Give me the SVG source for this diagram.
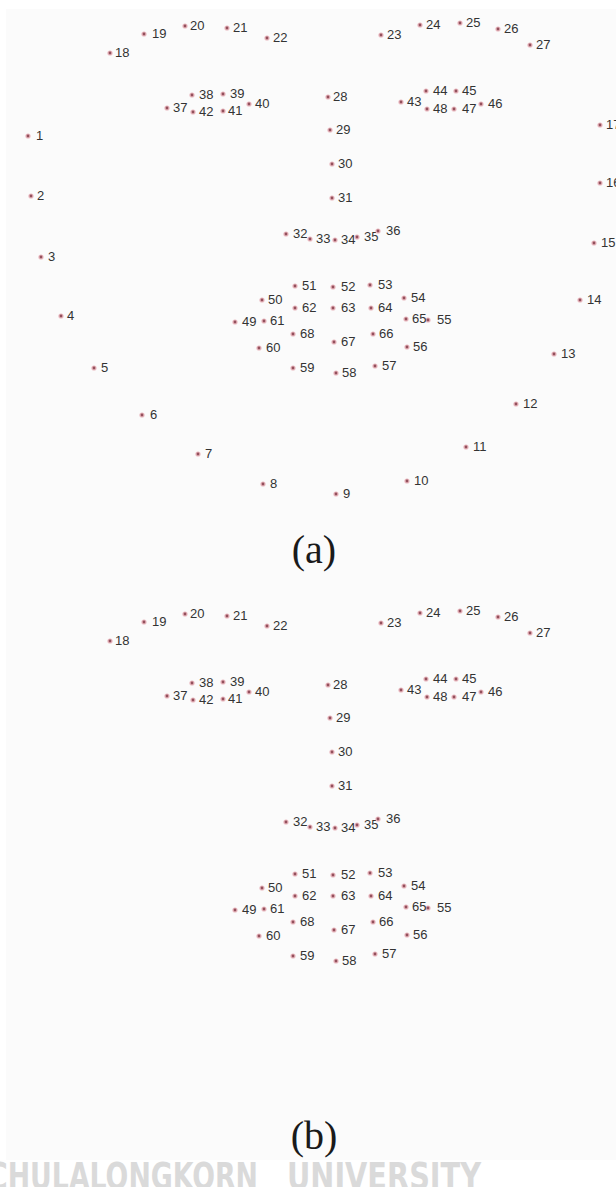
<svg xmlns="http://www.w3.org/2000/svg" xmlns:xlink="http://www.w3.org/1999/xlink" width="616" height="1187" viewBox="0 0 616 1187">
<style>
.lm text{font-family:"Liberation Sans",Arial,sans-serif;font-size:13px;fill:#333333}
.cap{font-family:"Liberation Serif","Times New Roman",serif;font-size:40px;fill:#1a1a1a;text-anchor:middle}
.wm{font-family:"Liberation Sans Narrow","DejaVu Sans Condensed","Liberation Sans",sans-serif;font-weight:bold;font-size:38px;fill:#dadada}
</style>
<defs>
<g id="m"><circle r="2.6" fill="#e8b7be"/><circle r="1.4" fill="#94505c"/></g>
</defs>
<rect x="0" y="0" width="616" height="1187" fill="#ffffff"/>
<rect x="6" y="9" width="610" height="1151" fill="#fbfbfb"/>
<g id="panel-a">
<g id="a-p1" class="lm"><use xlink:href="#m" x="28" y="136"/><text x="36" y="140">1</text></g>
<g id="a-p2" class="lm"><use xlink:href="#m" x="31" y="196"/><text x="37" y="200">2</text></g>
<g id="a-p3" class="lm"><use xlink:href="#m" x="41" y="257"/><text x="48" y="261">3</text></g>
<g id="a-p4" class="lm"><use xlink:href="#m" x="61" y="316"/><text x="67" y="320">4</text></g>
<g id="a-p5" class="lm"><use xlink:href="#m" x="94" y="368"/><text x="101" y="372">5</text></g>
<g id="a-p6" class="lm"><use xlink:href="#m" x="142" y="415"/><text x="150" y="419">6</text></g>
<g id="a-p7" class="lm"><use xlink:href="#m" x="198" y="454"/><text x="205" y="458">7</text></g>
<g id="a-p8" class="lm"><use xlink:href="#m" x="263" y="484"/><text x="270" y="488">8</text></g>
<g id="a-p9" class="lm"><use xlink:href="#m" x="336" y="494"/><text x="343" y="498">9</text></g>
<g id="a-p10" class="lm"><use xlink:href="#m" x="407" y="481"/><text x="414" y="485">10</text></g>
<g id="a-p11" class="lm"><use xlink:href="#m" x="466" y="447"/><text x="473" y="451">11</text></g>
<g id="a-p12" class="lm"><use xlink:href="#m" x="516" y="404"/><text x="523" y="408">12</text></g>
<g id="a-p13" class="lm"><use xlink:href="#m" x="554" y="354"/><text x="561" y="358">13</text></g>
<g id="a-p14" class="lm"><use xlink:href="#m" x="580" y="300"/><text x="587" y="304">14</text></g>
<g id="a-p15" class="lm"><use xlink:href="#m" x="594" y="243"/><text x="601" y="247">15</text></g>
<g id="a-p16" class="lm"><use xlink:href="#m" x="600" y="183"/><text x="606" y="187">16</text></g>
<g id="a-p17" class="lm"><use xlink:href="#m" x="600" y="125"/><text x="606" y="129">17</text></g>
<g id="a-p18" class="lm"><use xlink:href="#m" x="110" y="53"/><text x="115" y="57">18</text></g>
<g id="a-p19" class="lm"><use xlink:href="#m" x="144" y="34"/><text x="152" y="38">19</text></g>
<g id="a-p20" class="lm"><use xlink:href="#m" x="185" y="26"/><text x="190" y="30">20</text></g>
<g id="a-p21" class="lm"><use xlink:href="#m" x="227" y="28"/><text x="233" y="32">21</text></g>
<g id="a-p22" class="lm"><use xlink:href="#m" x="267" y="38"/><text x="273" y="42">22</text></g>
<g id="a-p23" class="lm"><use xlink:href="#m" x="381" y="35"/><text x="387" y="39">23</text></g>
<g id="a-p24" class="lm"><use xlink:href="#m" x="420" y="25"/><text x="426" y="29">24</text></g>
<g id="a-p25" class="lm"><use xlink:href="#m" x="460" y="23"/><text x="466" y="27">25</text></g>
<g id="a-p26" class="lm"><use xlink:href="#m" x="498" y="29"/><text x="504" y="33">26</text></g>
<g id="a-p27" class="lm"><use xlink:href="#m" x="530" y="45"/><text x="536" y="49">27</text></g>
<g id="a-p28" class="lm"><use xlink:href="#m" x="328" y="97"/><text x="333" y="101">28</text></g>
<g id="a-p29" class="lm"><use xlink:href="#m" x="330" y="130"/><text x="336" y="134">29</text></g>
<g id="a-p30" class="lm"><use xlink:href="#m" x="332" y="164"/><text x="338" y="168">30</text></g>
<g id="a-p31" class="lm"><use xlink:href="#m" x="332" y="198"/><text x="338" y="202">31</text></g>
<g id="a-p32" class="lm"><use xlink:href="#m" x="286" y="234"/><text x="293" y="238">32</text></g>
<g id="a-p33" class="lm"><use xlink:href="#m" x="310" y="239"/><text x="316" y="243">33</text></g>
<g id="a-p34" class="lm"><use xlink:href="#m" x="335" y="240"/><text x="341" y="244">34</text></g>
<g id="a-p35" class="lm"><use xlink:href="#m" x="357" y="237"/><text x="364" y="241">35</text></g>
<g id="a-p36" class="lm"><use xlink:href="#m" x="378" y="231"/><text x="386" y="235">36</text></g>
<g id="a-p37" class="lm"><use xlink:href="#m" x="167" y="108"/><text x="173" y="112">37</text></g>
<g id="a-p38" class="lm"><use xlink:href="#m" x="192" y="95"/><text x="199" y="99">38</text></g>
<g id="a-p39" class="lm"><use xlink:href="#m" x="223" y="94"/><text x="230" y="98">39</text></g>
<g id="a-p40" class="lm"><use xlink:href="#m" x="249" y="104"/><text x="255" y="108">40</text></g>
<g id="a-p41" class="lm"><use xlink:href="#m" x="223" y="111"/><text x="228" y="115">41</text></g>
<g id="a-p42" class="lm"><use xlink:href="#m" x="193" y="112"/><text x="199" y="116">42</text></g>
<g id="a-p43" class="lm"><use xlink:href="#m" x="401" y="102"/><text x="407" y="106">43</text></g>
<g id="a-p44" class="lm"><use xlink:href="#m" x="426" y="91"/><text x="433" y="95">44</text></g>
<g id="a-p45" class="lm"><use xlink:href="#m" x="456" y="91"/><text x="462" y="95">45</text></g>
<g id="a-p46" class="lm"><use xlink:href="#m" x="481" y="104"/><text x="488" y="108">46</text></g>
<g id="a-p47" class="lm"><use xlink:href="#m" x="454" y="109"/><text x="462" y="113">47</text></g>
<g id="a-p48" class="lm"><use xlink:href="#m" x="427" y="109"/><text x="433" y="113">48</text></g>
<g id="a-p49" class="lm"><use xlink:href="#m" x="235" y="322"/><text x="242" y="326">49</text></g>
<g id="a-p50" class="lm"><use xlink:href="#m" x="262" y="300"/><text x="268" y="304">50</text></g>
<g id="a-p51" class="lm"><use xlink:href="#m" x="295" y="286"/><text x="302" y="290">51</text></g>
<g id="a-p52" class="lm"><use xlink:href="#m" x="333" y="287"/><text x="341" y="291">52</text></g>
<g id="a-p53" class="lm"><use xlink:href="#m" x="370" y="285"/><text x="378" y="289">53</text></g>
<g id="a-p54" class="lm"><use xlink:href="#m" x="404" y="298"/><text x="411" y="302">54</text></g>
<g id="a-p55" class="lm"><use xlink:href="#m" x="428" y="320"/><text x="437" y="324">55</text></g>
<g id="a-p56" class="lm"><use xlink:href="#m" x="407" y="347"/><text x="413" y="351">56</text></g>
<g id="a-p57" class="lm"><use xlink:href="#m" x="375" y="366"/><text x="382" y="370">57</text></g>
<g id="a-p58" class="lm"><use xlink:href="#m" x="336" y="373"/><text x="342" y="377">58</text></g>
<g id="a-p59" class="lm"><use xlink:href="#m" x="293" y="368"/><text x="300" y="372">59</text></g>
<g id="a-p60" class="lm"><use xlink:href="#m" x="259" y="348"/><text x="266" y="352">60</text></g>
<g id="a-p61" class="lm"><use xlink:href="#m" x="264" y="321"/><text x="270" y="325">61</text></g>
<g id="a-p62" class="lm"><use xlink:href="#m" x="295" y="308"/><text x="302" y="312">62</text></g>
<g id="a-p63" class="lm"><use xlink:href="#m" x="333" y="308"/><text x="341" y="312">63</text></g>
<g id="a-p64" class="lm"><use xlink:href="#m" x="371" y="308"/><text x="378" y="312">64</text></g>
<g id="a-p65" class="lm"><use xlink:href="#m" x="406" y="319"/><text x="412" y="323">65</text></g>
<g id="a-p66" class="lm"><use xlink:href="#m" x="373" y="334"/><text x="379" y="338">66</text></g>
<g id="a-p67" class="lm"><use xlink:href="#m" x="334" y="342"/><text x="341" y="346">67</text></g>
<g id="a-p68" class="lm"><use xlink:href="#m" x="293" y="334"/><text x="300" y="338">68</text></g>
<text class="cap" x="314" y="563">(a)</text>
</g>
<g id="panel-b" transform="translate(0,588)">
<g id="b-p18" class="lm"><use xlink:href="#m" x="110" y="53"/><text x="115" y="57">18</text></g>
<g id="b-p19" class="lm"><use xlink:href="#m" x="144" y="34"/><text x="152" y="38">19</text></g>
<g id="b-p20" class="lm"><use xlink:href="#m" x="185" y="26"/><text x="190" y="30">20</text></g>
<g id="b-p21" class="lm"><use xlink:href="#m" x="227" y="28"/><text x="233" y="32">21</text></g>
<g id="b-p22" class="lm"><use xlink:href="#m" x="267" y="38"/><text x="273" y="42">22</text></g>
<g id="b-p23" class="lm"><use xlink:href="#m" x="381" y="35"/><text x="387" y="39">23</text></g>
<g id="b-p24" class="lm"><use xlink:href="#m" x="420" y="25"/><text x="426" y="29">24</text></g>
<g id="b-p25" class="lm"><use xlink:href="#m" x="460" y="23"/><text x="466" y="27">25</text></g>
<g id="b-p26" class="lm"><use xlink:href="#m" x="498" y="29"/><text x="504" y="33">26</text></g>
<g id="b-p27" class="lm"><use xlink:href="#m" x="530" y="45"/><text x="536" y="49">27</text></g>
<g id="b-p28" class="lm"><use xlink:href="#m" x="328" y="97"/><text x="333" y="101">28</text></g>
<g id="b-p29" class="lm"><use xlink:href="#m" x="330" y="130"/><text x="336" y="134">29</text></g>
<g id="b-p30" class="lm"><use xlink:href="#m" x="332" y="164"/><text x="338" y="168">30</text></g>
<g id="b-p31" class="lm"><use xlink:href="#m" x="332" y="198"/><text x="338" y="202">31</text></g>
<g id="b-p32" class="lm"><use xlink:href="#m" x="286" y="234"/><text x="293" y="238">32</text></g>
<g id="b-p33" class="lm"><use xlink:href="#m" x="310" y="239"/><text x="316" y="243">33</text></g>
<g id="b-p34" class="lm"><use xlink:href="#m" x="335" y="240"/><text x="341" y="244">34</text></g>
<g id="b-p35" class="lm"><use xlink:href="#m" x="357" y="237"/><text x="364" y="241">35</text></g>
<g id="b-p36" class="lm"><use xlink:href="#m" x="378" y="231"/><text x="386" y="235">36</text></g>
<g id="b-p37" class="lm"><use xlink:href="#m" x="167" y="108"/><text x="173" y="112">37</text></g>
<g id="b-p38" class="lm"><use xlink:href="#m" x="192" y="95"/><text x="199" y="99">38</text></g>
<g id="b-p39" class="lm"><use xlink:href="#m" x="223" y="94"/><text x="230" y="98">39</text></g>
<g id="b-p40" class="lm"><use xlink:href="#m" x="249" y="104"/><text x="255" y="108">40</text></g>
<g id="b-p41" class="lm"><use xlink:href="#m" x="223" y="111"/><text x="228" y="115">41</text></g>
<g id="b-p42" class="lm"><use xlink:href="#m" x="193" y="112"/><text x="199" y="116">42</text></g>
<g id="b-p43" class="lm"><use xlink:href="#m" x="401" y="102"/><text x="407" y="106">43</text></g>
<g id="b-p44" class="lm"><use xlink:href="#m" x="426" y="91"/><text x="433" y="95">44</text></g>
<g id="b-p45" class="lm"><use xlink:href="#m" x="456" y="91"/><text x="462" y="95">45</text></g>
<g id="b-p46" class="lm"><use xlink:href="#m" x="481" y="104"/><text x="488" y="108">46</text></g>
<g id="b-p47" class="lm"><use xlink:href="#m" x="454" y="109"/><text x="462" y="113">47</text></g>
<g id="b-p48" class="lm"><use xlink:href="#m" x="427" y="109"/><text x="433" y="113">48</text></g>
<g id="b-p49" class="lm"><use xlink:href="#m" x="235" y="322"/><text x="242" y="326">49</text></g>
<g id="b-p50" class="lm"><use xlink:href="#m" x="262" y="300"/><text x="268" y="304">50</text></g>
<g id="b-p51" class="lm"><use xlink:href="#m" x="295" y="286"/><text x="302" y="290">51</text></g>
<g id="b-p52" class="lm"><use xlink:href="#m" x="333" y="287"/><text x="341" y="291">52</text></g>
<g id="b-p53" class="lm"><use xlink:href="#m" x="370" y="285"/><text x="378" y="289">53</text></g>
<g id="b-p54" class="lm"><use xlink:href="#m" x="404" y="298"/><text x="411" y="302">54</text></g>
<g id="b-p55" class="lm"><use xlink:href="#m" x="428" y="320"/><text x="437" y="324">55</text></g>
<g id="b-p56" class="lm"><use xlink:href="#m" x="407" y="347"/><text x="413" y="351">56</text></g>
<g id="b-p57" class="lm"><use xlink:href="#m" x="375" y="366"/><text x="382" y="370">57</text></g>
<g id="b-p58" class="lm"><use xlink:href="#m" x="336" y="373"/><text x="342" y="377">58</text></g>
<g id="b-p59" class="lm"><use xlink:href="#m" x="293" y="368"/><text x="300" y="372">59</text></g>
<g id="b-p60" class="lm"><use xlink:href="#m" x="259" y="348"/><text x="266" y="352">60</text></g>
<g id="b-p61" class="lm"><use xlink:href="#m" x="264" y="321"/><text x="270" y="325">61</text></g>
<g id="b-p62" class="lm"><use xlink:href="#m" x="295" y="308"/><text x="302" y="312">62</text></g>
<g id="b-p63" class="lm"><use xlink:href="#m" x="333" y="308"/><text x="341" y="312">63</text></g>
<g id="b-p64" class="lm"><use xlink:href="#m" x="371" y="308"/><text x="378" y="312">64</text></g>
<g id="b-p65" class="lm"><use xlink:href="#m" x="406" y="319"/><text x="412" y="323">65</text></g>
<g id="b-p66" class="lm"><use xlink:href="#m" x="373" y="334"/><text x="379" y="338">66</text></g>
<g id="b-p67" class="lm"><use xlink:href="#m" x="334" y="342"/><text x="341" y="346">67</text></g>
<g id="b-p68" class="lm"><use xlink:href="#m" x="293" y="334"/><text x="300" y="338">68</text></g>
</g>
<text class="cap" x="314" y="1149">(b)</text>
<g id="watermark">
<text class="wm" x="-12" y="1189" textLength="270" lengthAdjust="spacingAndGlyphs">CHULALONGKORN</text>
<text class="wm" x="287" y="1189" textLength="194" lengthAdjust="spacingAndGlyphs">UNIVERSITY</text>
</g>
</svg>
